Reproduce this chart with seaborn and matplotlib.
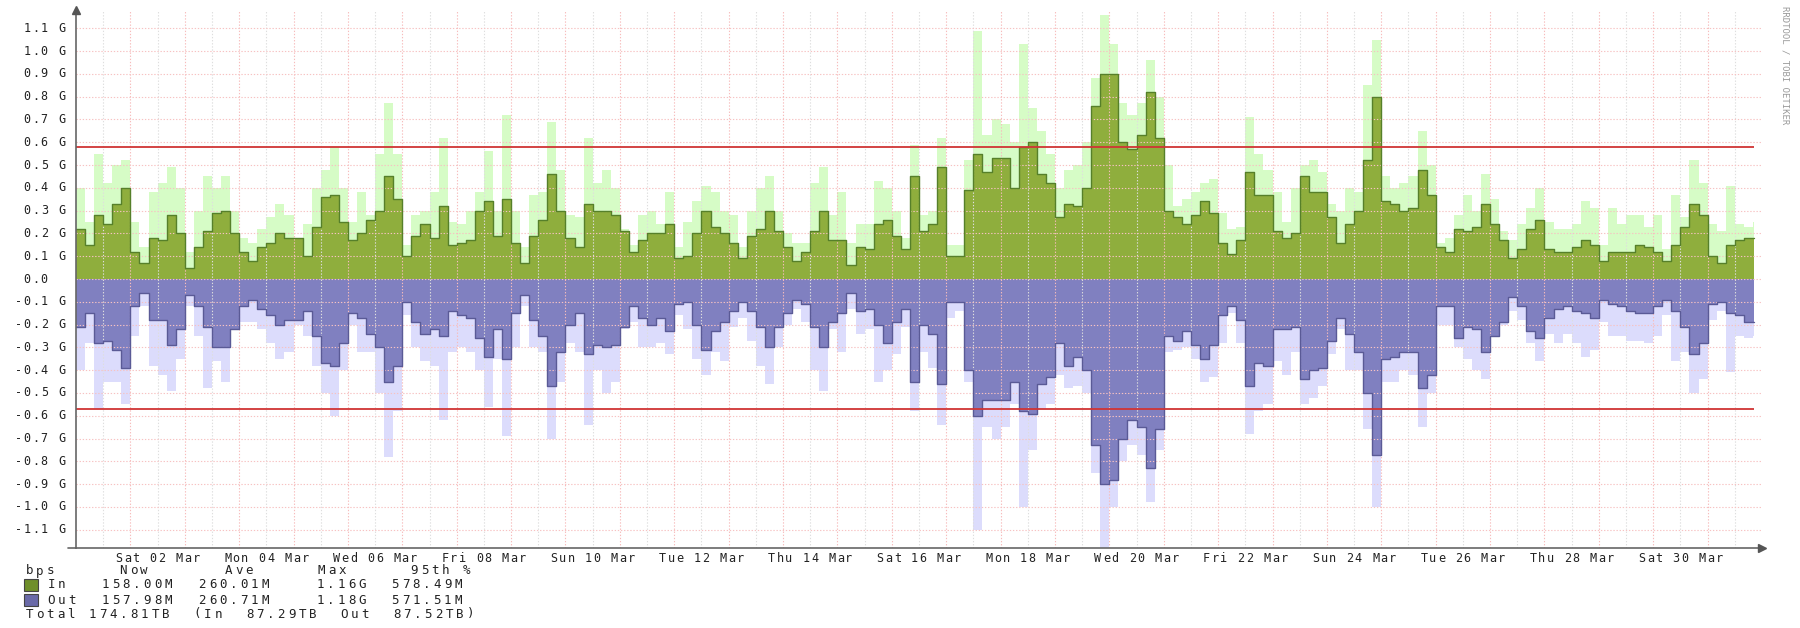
import numpy as np
import pandas as pd
import seaborn as sns
import matplotlib.pyplot as plt
from matplotlib.patches import Rectangle

# 4-hour steps, 6 per day, 1 Mar .. 31 Mar (values in G bit/s)
IN_AVG = [
    0.22, 0.15, 0.28, 0.24, 0.33, 0.40,
    0.12, 0.07, 0.18, 0.17, 0.28, 0.20,
    0.05, 0.14, 0.21, 0.29, 0.30, 0.20,
    0.12, 0.08, 0.14, 0.16, 0.20, 0.18,
    0.18, 0.10, 0.23, 0.36, 0.37, 0.25,
    0.17, 0.20, 0.26, 0.30, 0.45, 0.35,
    0.10, 0.19, 0.24, 0.18, 0.32, 0.15,
    0.16, 0.17, 0.30, 0.34, 0.19, 0.35,
    0.16, 0.07, 0.19, 0.26, 0.46, 0.30,
    0.18, 0.14, 0.33, 0.30, 0.30, 0.28,
    0.21, 0.12, 0.17, 0.20, 0.20, 0.24,
    0.09, 0.10, 0.20, 0.30, 0.23, 0.20,
    0.16, 0.09, 0.19, 0.22, 0.30, 0.21,
    0.14, 0.08, 0.12, 0.21, 0.30, 0.17,
    0.17, 0.06, 0.14, 0.13, 0.24, 0.26,
    0.19, 0.13, 0.45, 0.21, 0.24, 0.49,
    0.10, 0.10, 0.39, 0.55, 0.47, 0.53,
    0.53, 0.40, 0.58, 0.60, 0.46, 0.42,
    0.27, 0.33, 0.32, 0.40, 0.76, 0.90,
    0.90, 0.60, 0.57, 0.63, 0.82, 0.62,
    0.30, 0.27, 0.24, 0.28, 0.34, 0.29,
    0.16, 0.11, 0.17, 0.47, 0.37, 0.37,
    0.21, 0.18, 0.20, 0.45, 0.38, 0.38,
    0.27, 0.16, 0.24, 0.30, 0.52, 0.80,
    0.34, 0.33, 0.30, 0.31, 0.48, 0.37,
    0.14, 0.12, 0.22, 0.21, 0.23, 0.33,
    0.24, 0.17, 0.09, 0.13, 0.22, 0.26,
    0.13, 0.12, 0.12, 0.14, 0.17, 0.15,
    0.08, 0.12, 0.12, 0.12, 0.15, 0.14,
    0.12, 0.08, 0.15, 0.23, 0.33, 0.28,
    0.10, 0.07, 0.15, 0.17, 0.18, 0.18,
]
IN_MAX = [
    0.40, 0.25, 0.55, 0.42, 0.50, 0.52,
    0.25, 0.14, 0.38, 0.42, 0.49, 0.40,
    0.12, 0.30, 0.45, 0.40, 0.45, 0.30,
    0.18, 0.16, 0.22, 0.27, 0.33, 0.28,
    0.18, 0.24, 0.40, 0.48, 0.58, 0.40,
    0.25, 0.38, 0.28, 0.55, 0.77, 0.55,
    0.15, 0.28, 0.30, 0.38, 0.62, 0.25,
    0.24, 0.30, 0.38, 0.56, 0.30, 0.72,
    0.30, 0.14, 0.37, 0.38, 0.69, 0.48,
    0.28, 0.27, 0.62, 0.42, 0.48, 0.40,
    0.22, 0.15, 0.28, 0.30, 0.24, 0.38,
    0.14, 0.25, 0.34, 0.41, 0.38, 0.30,
    0.28, 0.14, 0.30, 0.40, 0.45, 0.30,
    0.20, 0.16, 0.16, 0.42, 0.49, 0.28,
    0.38, 0.16, 0.24, 0.24, 0.43, 0.40,
    0.30, 0.18, 0.59, 0.28, 0.30, 0.62,
    0.15, 0.15, 0.52, 1.09, 0.63, 0.70,
    0.68, 0.60, 1.03, 0.75, 0.65, 0.55,
    0.40, 0.48, 0.50, 0.60, 0.88, 1.16,
    1.03, 0.77, 0.72, 0.77, 0.96, 0.80,
    0.50, 0.32, 0.35, 0.38, 0.42, 0.44,
    0.29, 0.22, 0.23, 0.71, 0.55, 0.48,
    0.38, 0.25, 0.40, 0.50, 0.52, 0.47,
    0.33, 0.30, 0.40, 0.38, 0.85, 1.05,
    0.45, 0.40, 0.42, 0.45, 0.65, 0.50,
    0.16, 0.18, 0.28, 0.37, 0.30, 0.46,
    0.35, 0.21, 0.17, 0.24, 0.31, 0.40,
    0.25, 0.22, 0.22, 0.24, 0.34, 0.31,
    0.15, 0.31, 0.24, 0.28, 0.28, 0.23,
    0.28, 0.13, 0.37, 0.27, 0.52, 0.42,
    0.24, 0.21, 0.41, 0.24, 0.23, 0.25,
]
OUT_AVG = [
    0.21, 0.15, 0.28, 0.27, 0.31, 0.39,
    0.12, 0.06, 0.18, 0.18, 0.29, 0.22,
    0.07, 0.12, 0.21, 0.30, 0.30, 0.22,
    0.12, 0.09, 0.13, 0.16, 0.20, 0.18,
    0.18, 0.14, 0.25, 0.37, 0.38, 0.28,
    0.15, 0.17, 0.24, 0.30, 0.45, 0.38,
    0.10, 0.19, 0.24, 0.22, 0.25, 0.14,
    0.16, 0.17, 0.26, 0.34, 0.22, 0.35,
    0.15, 0.07, 0.18, 0.25, 0.47, 0.32,
    0.20, 0.15, 0.33, 0.29, 0.30, 0.29,
    0.21, 0.12, 0.17, 0.20, 0.17, 0.23,
    0.11, 0.10, 0.20, 0.31, 0.23, 0.19,
    0.14, 0.10, 0.14, 0.21, 0.30, 0.21,
    0.15, 0.09, 0.11, 0.21, 0.30, 0.19,
    0.15, 0.06, 0.14, 0.13, 0.20, 0.28,
    0.19, 0.13, 0.45, 0.20, 0.24, 0.46,
    0.10, 0.10, 0.40, 0.60, 0.53, 0.53,
    0.53, 0.45, 0.58, 0.59, 0.46, 0.43,
    0.28, 0.38, 0.34, 0.40, 0.73, 0.90,
    0.88, 0.70, 0.62, 0.65, 0.83, 0.66,
    0.25, 0.27, 0.23, 0.29, 0.35, 0.29,
    0.16, 0.12, 0.18, 0.47, 0.37, 0.38,
    0.22, 0.22, 0.21, 0.44, 0.40, 0.39,
    0.27, 0.17, 0.24, 0.32, 0.50, 0.77,
    0.35, 0.34, 0.32, 0.32, 0.48, 0.42,
    0.12, 0.12, 0.26, 0.21, 0.22, 0.32,
    0.25, 0.19, 0.08, 0.12, 0.23, 0.26,
    0.17, 0.13, 0.12, 0.14, 0.15, 0.17,
    0.09, 0.11, 0.12, 0.14, 0.15, 0.15,
    0.12, 0.09, 0.14, 0.21, 0.33, 0.28,
    0.11, 0.10, 0.15, 0.16, 0.19, 0.19,
]
OUT_MAX = [
    0.40, 0.28, 0.57, 0.45, 0.45, 0.55,
    0.25, 0.12, 0.38, 0.42, 0.49, 0.35,
    0.12, 0.25, 0.48, 0.36, 0.45, 0.22,
    0.19, 0.19, 0.22, 0.28, 0.35, 0.32,
    0.20, 0.25, 0.38, 0.50, 0.60, 0.40,
    0.20, 0.32, 0.32, 0.50, 0.78, 0.58,
    0.16, 0.30, 0.36, 0.38, 0.62, 0.32,
    0.30, 0.32, 0.40, 0.56, 0.35, 0.69,
    0.30, 0.12, 0.30, 0.32, 0.70, 0.45,
    0.28, 0.32, 0.64, 0.40, 0.50, 0.45,
    0.22, 0.19, 0.30, 0.30, 0.28, 0.33,
    0.16, 0.22, 0.35, 0.42, 0.32, 0.36,
    0.21, 0.17, 0.27, 0.38, 0.46, 0.30,
    0.20, 0.13, 0.19, 0.40, 0.49, 0.22,
    0.32, 0.13, 0.24, 0.22, 0.45, 0.40,
    0.33, 0.21, 0.58, 0.32, 0.39, 0.64,
    0.17, 0.14, 0.45, 1.10, 0.65, 0.70,
    0.65, 0.55, 1.00, 0.75, 0.57, 0.55,
    0.42, 0.48, 0.47, 0.50, 0.85, 1.18,
    1.00, 0.80, 0.73, 0.77, 0.98, 0.75,
    0.32, 0.31, 0.30, 0.35, 0.45, 0.43,
    0.28, 0.15, 0.28, 0.68, 0.58, 0.55,
    0.36, 0.42, 0.32, 0.55, 0.52, 0.47,
    0.33, 0.22, 0.40, 0.40, 0.66, 1.00,
    0.45, 0.45, 0.40, 0.42, 0.65, 0.50,
    0.20, 0.20, 0.30, 0.35, 0.40, 0.44,
    0.25, 0.20, 0.14, 0.18, 0.28, 0.36,
    0.24, 0.28, 0.24, 0.28, 0.34, 0.31,
    0.19, 0.25, 0.25, 0.27, 0.27, 0.28,
    0.25, 0.16, 0.36, 0.32, 0.50, 0.44,
    0.18, 0.14, 0.41, 0.25, 0.26, 0.25,
]
IN_95TH = 0.57849
OUT_95TH = 0.57151

DAY_LABELS = ['Sat 02 Mar', 'Mon 04 Mar', 'Wed 06 Mar', 'Fri 08 Mar', 'Sun 10 Mar',
              'Tue 12 Mar', 'Thu 14 Mar', 'Sat 16 Mar', 'Mon 18 Mar', 'Wed 20 Mar',
              'Fri 22 Mar', 'Sun 24 Mar', 'Tue 26 Mar', 'Thu 28 Mar', 'Sat 30 Mar']
LEGEND_HEAD = ['bps', 'Now', 'Ave', 'Max', '95th %']
LEGEND_IN = ['In', '158.00M', '260.01M', '1.16G', '578.49M']
LEGEND_OUT = ['Out', '157.98M', '260.71M', '1.18G', '571.51M']
TOTAL_LINE = 'Total 174.81TB  (In  87.29TB  Out  87.52TB)'

STEP_DAYS = 4 / 24
DATA_END = 30.85

W, H = 1800, 628
sns.set_style("white")
plt.rcParams['font.family'] = ['DejaVu Sans Mono']
TXT = '#222222'

df = pd.DataFrame({'day': np.arange(len(IN_AVG)) * STEP_DAYS,
                   'in_avg': IN_AVG, 'in_max': IN_MAX,
                   'out_avg': -np.array(OUT_AVG), 'out_max': -np.array(OUT_MAX)})
# repeat last row at the right edge so the steps close
df = pd.concat([df, df.iloc[[-1]].assign(day=DATA_END)], ignore_index=True)

fig = plt.figure(figsize=(W / 100, H / 100), dpi=100)
ax = fig.add_axes([76 / W, 1 - 548 / H, (1762 - 76) / W, (548 - 10) / H])

# max areas first, averages on top
ax.fill_between(df['day'], 0, df['in_max'], step='post', color='#d6fcc6', lw=0, zorder=1)
ax.fill_between(df['day'], 0, df['out_max'], step='post', color='#dcdcfc', lw=0, zorder=1)
ax.fill_between(df['day'], 0, df['in_avg'], step='post', color='#8fae3d', lw=0, zorder=1.2)
ax.fill_between(df['day'], 0, df['out_avg'], step='post', color='#8080c0', lw=0, zorder=1.2)
sns.lineplot(data=df, x='day', y='in_avg', ax=ax, drawstyle='steps-post', color='#56802a',
             lw=1.0, estimator=None, sort=False, zorder=3)
sns.lineplot(data=df, x='day', y='out_avg', ax=ax, drawstyle='steps-post', color='#5a5a96',
             lw=1.0, estimator=None, sort=False, zorder=3)
ax.set_xlabel('')
ax.set_ylabel('')
ax.set_xlim(0, 31)
ax.set_ylim(-1.18, 1.18)

# grid: red at midnight, grey at noon, pink every 0.1 G
ax.set_xticks(np.arange(1, 31))
ax.set_xticks(np.arange(0.5, 31, 1), minor=True)
ax.set_yticks(np.round(np.arange(-1.1, 1.11, 0.1), 1))
ax.set_axisbelow(False)
ax.grid(axis='x', which='major', color='#f7bcbc', ls=(0, (1.2, 1.6)), lw=0.8)
ax.grid(axis='x', which='minor', color='#dedede', ls=(0, (1.2, 1.6)), lw=0.8)
ax.grid(axis='y', which='major', color='#f7c2c2', ls=(0, (1.2, 1.6)), lw=0.8)
ax.tick_params(axis='x', which='major', length=4, color='#f7bcbc', labelbottom=False)
ax.tick_params(axis='x', which='minor', length=4, color='#dedede', labelbottom=False)
ax.tick_params(axis='y', length=5, color='#f7c2c2', labelleft=False)

ax.hlines([IN_95TH, -OUT_95TH], 0, DATA_END, color='#d03434', lw=1.3, zorder=4)

for s in ['top', 'right']:
    ax.spines[s].set_visible(False)
for s in ['left', 'bottom']:
    ax.spines[s].set_color('#666666')
    ax.spines[s].set_linewidth(1.2)
    ax.spines[s].set_zorder(5)
ax.plot([0], [1.0], marker='^', ms=6, color='#555555', transform=ax.transAxes, clip_on=False, zorder=6)
ax.plot([1.0], [0], marker='>', ms=6, color='#555555', transform=ax.transAxes, clip_on=False, zorder=6)
ax.plot([-0.005, 0], [0, 0], color='#666666', lw=1.2, transform=ax.transAxes, clip_on=False)


def spaced(x, y, s, pitch, size=8.5, color=TXT):
    # rrdtool-ish wide monospace: one glyph per fixed cell, x/y in pixels from top-left
    for i, ch in enumerate(s):
        if ch != ' ':
            fig.text((x + (i + 0.5) * pitch) / W, 1 - y / H, ch, ha='center', va='center',
                     fontsize=size, color=color)


# y labels, right aligned
for v in ax.get_yticks():
    lab = '0.0  ' if abs(v) < 1e-9 else f'{v:.1f} G'
    py = H - ax.transData.transform((0, v))[1]
    spaced(66 - len(lab) * 8.7, py, lab, 8.7)

# x labels centred on noon of every second day
for k, lab in enumerate(DAY_LABELS):
    px = ax.transData.transform((1.5 + 2 * k, 0))[0]
    spaced(px - len(lab) * 8.6 / 2, 558, lab, 8.6)

# legend block
cols = [24, 118, 223, 316, 409]
for c, t in zip(cols, LEGEND_HEAD):
    spaced(c, 571, t, 10.5, size=9)
in_cols = [46, 100, 197, 315, 390]
for row_y, vals, col in [(585, LEGEND_IN, '#6f8f2a'), (600, LEGEND_OUT, '#6a6aa8')]:
    fig.add_artist(Rectangle((24 / W, 1 - (row_y + 6) / H), 14 / W, 12 / H,
                             transform=fig.transFigure, facecolor=col, edgecolor='#444444', lw=0.8))
    for c, t in zip(in_cols, vals):
        spaced(c, row_y, t, 10.5, size=9)
spaced(24, 614, TOTAL_LINE, 10.5, size=9)

fig.text(1785 / W, 1 - 6 / H, 'RRDTOOL / TOBI OETIKER', rotation=270, ha='center', va='top',
         fontsize=6.5, color='#9a9a9a')

fig.savefig('out.png', dpi=100, facecolor='white')
